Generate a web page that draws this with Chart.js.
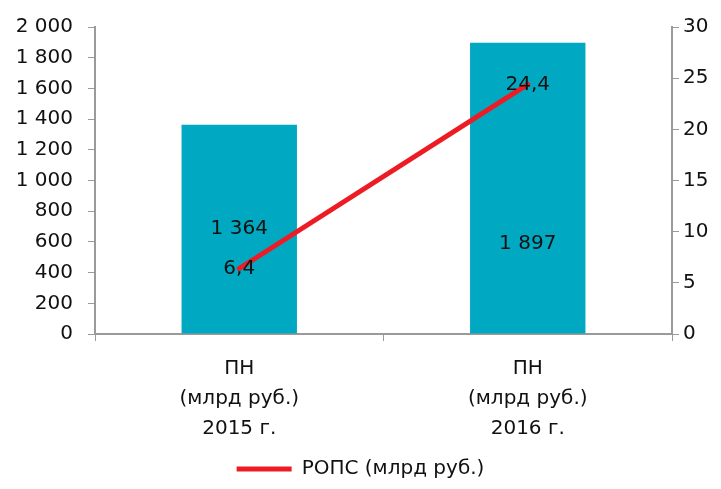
<!DOCTYPE html>
<html>
<head>
<meta charset="utf-8">
<script src="https://cdn.jsdelivr.net/npm/chart.js@4/dist/chart.umd.min.js"></script>
<style>
  html, body { margin: 0; padding: 0; background: #fff; }
  #wrap { width: 721px; height: 489px; }
</style>
</head>
<body>
<div id="wrap"><canvas id="chart" width="721" height="489"></canvas></div>
<script>
'use strict';

const categories = [['ПН', '(млрд руб.)', '2015 г.'], ['ПН', '(млрд руб.)', '2016 г.']];
const pnValues = [1364, 1897];
const ropsValues = [6.4, 24.4];
const ropsLabel = 'РОПС (млрд руб.)';

const FONT = '"DejaVu Sans", sans-serif';
const axisGrey = '#9a9a9a';
const barColor = '#00a9c1';
const lineColor = '#ed1c24';

const spaced = v => String(v).replace(/\B(?=(\d{3})+(?!\d))/g, ' ');
const comma = v => String(v).replace('.', ',');

// where the bar value labels sit, relative to the bar centre
const barLabelShift = [0, 56];

const valueLabels = {
  id: 'valueLabels',
  afterDatasetsDraw(chart) {
    const ctx = chart.ctx;
    ctx.save();
    ctx.font = '20px ' + FONT;
    ctx.fillStyle = '#111';
    ctx.textAlign = 'center';
    ctx.textBaseline = 'middle';
    chart.getDatasetMeta(0).data.forEach((bar, i) => {
      const mid = (bar.y + bar.base) / 2;
      ctx.fillText(spaced(pnValues[i]), bar.x, mid + barLabelShift[i]);
    });
    chart.getDatasetMeta(1).data.forEach((pt, i) => {
      ctx.fillText(comma(ropsValues[i]), pt.x, pt.y);
    });
    ctx.restore();
  }
};

const ctx = document.getElementById('chart').getContext('2d');
new Chart(ctx, {
  data: {
    labels: categories,
    datasets: [
      {type: 'bar', label: 'ПН (млрд руб.)', data: pnValues, backgroundColor: barColor,
       categoryPercentage: 0.8, barPercentage: 0.5, yAxisID: 'y', order: 2},
      {type: 'line', label: ropsLabel, data: ropsValues, borderColor: lineColor, backgroundColor: lineColor,
       borderWidth: 5, pointRadius: 0, borderCapStyle: 'round', yAxisID: 'y1', order: 1}
    ]
  },
  options: {
    responsive: false,
    animation: false,
    layout: {padding: {top: 10, bottom: 0, left: 0, right: 0}},
    plugins: {
      tooltip: {enabled: false},
      legend: {
        position: 'bottom',
        labels: {
          font: {family: FONT, size: 20},
          color: '#111',
          boxWidth: 55,
          boxHeight: 5,
          padding: 10,
          filter: item => item.datasetIndex === 1,
          generateLabels: chart => Chart.defaults.plugins.legend.labels.generateLabels(chart)
            .map(item => Object.assign(item, {lineWidth: 0, strokeStyle: lineColor}))
        }
      }
    },
    scales: {
      x: {
        grid: {drawOnChartArea: false, drawTicks: true, tickLength: 7, color: axisGrey, offset: true},
        border: {display: true, color: axisGrey, width: 2},
        ticks: {font: {family: FONT, size: 20, lineHeight: 1.5}, color: '#111', padding: 13, maxRotation: 0},
        afterFit: s => { s.height = 115; }
      },
      y: {
        position: 'left',
        min: 0, max: 2000,
        ticks: {stepSize: 200, font: {family: FONT, size: 20}, color: '#111', padding: 15,
                callback: v => spaced(v)},
        grid: {drawOnChartArea: false, drawTicks: true, tickLength: 7, color: axisGrey},
        border: {display: true, color: axisGrey, width: 2},
        afterFit: s => { s.width = 95; }
      },
      y1: {
        position: 'right',
        min: 0, max: 30,
        ticks: {stepSize: 5, font: {family: FONT, size: 20}, color: '#111', padding: 4},
        grid: {drawOnChartArea: false, drawTicks: true, tickLength: 7, color: axisGrey},
        border: {display: true, color: axisGrey, width: 2},
        afterFit: s => { s.width = 49; }
      }
    }
  },
  plugins: [valueLabels]
});
</script>
</body>
</html>
